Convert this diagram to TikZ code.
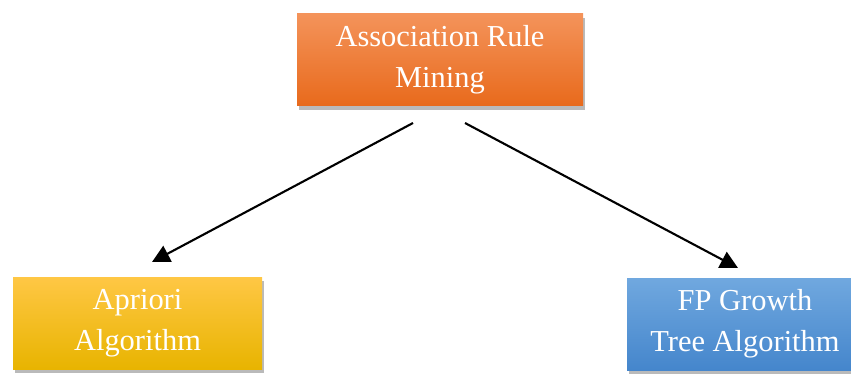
\documentclass[tikz,border=0pt]{standalone}
\usepackage{fontspec}
\setmainfont{Liberation Serif}
\usetikzlibrary{shadows,arrows.meta}
\definecolor{orgTop}{HTML}{F4935A}
\definecolor{orgBot}{HTML}{E86A1C}
\definecolor{ylwTop}{HTML}{FFC745}
\definecolor{ylwBot}{HTML}{E8B400}
\definecolor{bluTop}{HTML}{70A8DF}
\definecolor{bluBot}{HTML}{4586CC}
\begin{document}
\begin{tikzpicture}[x=0.03cm,y=-0.03cm,
    box/.style={minimum height=92*0.03cm, align=center, text=white,
      font=\fontsize{26}{35}\selectfont,
      drop shadow={shadow xshift=2pt, shadow yshift=-3pt, fill=black!60, opacity=0.45}},
    arrow/.style={line width=1.8pt, -{Triangle[length=15pt,width=15pt]}}]
      \useasboundingbox (0,0) rectangle (851,376);
      \node[box, minimum width=286*0.03cm, top color=orgTop, bottom color=orgBot] (arm) at (440,60) {\raisebox{-4pt}{Association Rule}\\\raisebox{-4pt}{Mining}};
      \node[box, minimum width=249*0.03cm, top color=ylwTop, bottom color=ylwBot] (apriori) at (137.5,323) {\raisebox{-4pt}{Apriori}\\\raisebox{-4pt}{Algorithm}};
      \node[box, minimum width=236*0.03cm, top color=bluTop, bottom color=bluBot] (fpg) at (745,324) {\raisebox{-4pt}{FP Growth}\\\raisebox{-4pt}{Tree Algorithm}};
      \coordinate (armL) at (413,123);
      \coordinate (armR) at (465,123);
      \coordinate (aprTip) at (152,262);
      \coordinate (fpgTip) at (738,268);
      \draw[arrow] (armL) -- (aprTip);
      \draw[arrow] (armR) -- (fpgTip);
    \end{tikzpicture}
\end{document}
